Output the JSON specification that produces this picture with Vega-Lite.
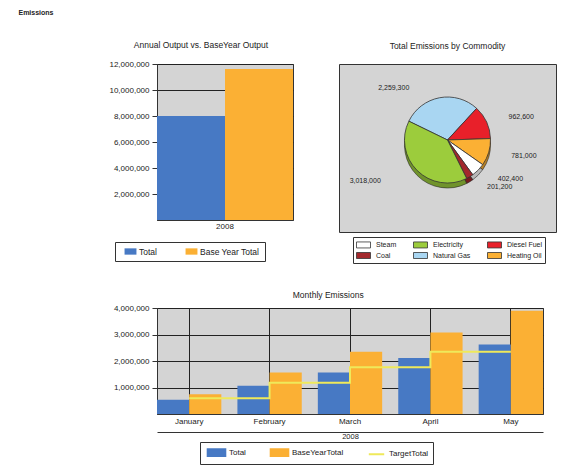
{
  "$schema": "https://vega.github.io/schema/vega-lite/v6.json",
  "padding": {"left": 18, "top": 9, "right": 8, "bottom": 0},
  "background": "white",
  "title": {"text": "Emissions", "anchor": "start", "frame": "bounds", "fontSize": 7, "fontWeight": "bold", "font": "Liberation Sans", "color": "#222", "dx": -90, "offset": 24},
  "config": {
    "font": "Liberation Sans",
    "view": {"fill": "#d4d4d4", "stroke": "#333", "strokeWidth": 1},
    "axis": {"labelFont": "Liberation Sans", "labelFontSize": 8, "labelColor": "#222", "domainColor": "#333", "tickColor": "#333", "gridColor": "#222", "gridWidth": 1, "gridOpacity": 1, "titleFontSize": 7.5, "titleFontWeight": "normal", "titleColor": "#222", "tickSize": 5, "labelPadding": 3},
    "title": {"fontSize": 8.5, "fontWeight": "normal", "color": "#222", "font": "Liberation Sans"},
    "legend": {"labelFontSize": 8, "labelColor": "#222", "strokeColor": "#333", "padding": 4, "fillColor": "white", "titleFontSize": 7.5}
  },
  "resolve": {"scale": {"color": "independent", "x": "independent", "y": "independent", "xOffset": "independent", "theta": "independent"}, "legend": {"color": "independent"}},
  "spacing": 26,
  "vconcat": [
    {
      "spacing": 44,
      "resolve": {"scale": {"color": "independent", "x": "independent", "y": "independent", "xOffset": "independent", "theta": "independent"}, "legend": {"color": "independent"}},
      "hconcat": [
        {
          "width": 136,
          "height": 156,
          "title": {"text": "Annual Output vs. BaseYear Output", "frame": "bounds", "offset": 11},
          "data": {"values": [
            {"Year": "2008", "Series": "Total", "Value": 8000000},
            {"Year": "2008", "Series": "Base Year Total", "Value": 11620000}
          ]},
          "mark": {"type": "bar"},
          "encoding": {
            "x": {"field": "Year", "type": "nominal", "scale": {"paddingInner": 0, "paddingOuter": 0}, "axis": {"title": null, "labelAngle": 0, "ticks": false, "grid": false, "labelPadding": 2}},
            "xOffset": {"field": "Series", "type": "nominal", "sort": ["Total", "Base Year Total"], "scale": {"paddingInner": 0, "paddingOuter": 0}},
            "y": {"field": "Value", "type": "quantitative", "scale": {"domain": [0, 12000000], "nice": false}, "axis": {"title": null, "values": [2000000, 4000000, 6000000, 8000000, 10000000, 12000000], "format": ",.0f", "grid": true}},
            "color": {"field": "Series", "type": "nominal", "scale": {"domain": ["Total", "Base Year Total"], "range": ["#4779c4", "#fbb034"]},
              "legend": {"title": null, "orient": "none", "legendX": -42, "legendY": 178, "direction": "horizontal", "symbolType": "M-1.7,-0.9H1.7V0.9H-1.7Z", "symbolSize": 49, "symbolOffset": 6, "labelOffset": 4, "columnPadding": 24, "labelFontSize": 8.5, "padding": 5}}
          }
        },
        {
          "width": 217,
          "height": 168,
          "view": {"fill": "#d4d4d4", "stroke": "#333", "strokeWidth": 1},
          "title": {"text": "Total Emissions by Commodity", "offset": 14},
          "data": {"values": [
            {"Commodity": "Natural Gas", "Emissions": 2259300, "Seq": 1},
            {"Commodity": "Diesel Fuel", "Emissions": 962600, "Seq": 2},
            {"Commodity": "Heating Oil", "Emissions": 781000, "Seq": 3},
            {"Commodity": "Steam", "Emissions": 402400, "Seq": 4},
            {"Commodity": "Coal", "Emissions": 201200, "Seq": 5},
            {"Commodity": "Electricity", "Emissions": 3018000, "Seq": 6}
          ]},
          "encoding": {
            "theta": {"field": "Emissions", "type": "quantitative", "stack": true, "scale": {"range": [5.166, 11.449]}},
            "order": {"field": "Seq", "type": "quantitative"}
          },
          "layer": [
            {
              "mark": {"type": "arc", "outerRadius": 43, "yOffset": -3, "stroke": "#333", "strokeWidth": 0.6},
              "encoding": {
                "color": {"field": "Commodity", "type": "nominal",
                  "scale": {"domain": ["Steam", "Electricity", "Diesel Fuel", "Coal", "Natural Gas", "Heating Oil"], "range": ["#ffffff", "#9ccc3c", "#e8202a", "#a3282c", "#a9d6f2", "#fbb034"]},
                  "legend": {"title": null, "orient": "none", "legendX": 14, "legendY": 173, "columns": 3, "direction": "horizontal", "symbolType": "M-1.4,-0.6H1.4V0.6H-1.4Z", "symbolSize": 100, "symbolOffset": 3, "labelOffset": 7, "symbolStrokeColor": "#333", "symbolStrokeWidth": 0.8, "columnPadding": 14, "rowPadding": 0, "labelFontSize": 7, "labelLimit": 60, "padding": 2}}
              }
            },
            {
              "mark": {"type": "arc", "outerRadius": 43, "yOffset": -3, "fill": "#000", "fillOpacity": 0.28}
            },
            {
              "mark": {"type": "arc", "outerRadius": 43, "yOffset": -8, "stroke": "#333", "strokeWidth": 0.8},
              "encoding": {
                "color": {"field": "Commodity", "type": "nominal"}
              }
            },
            {
              "mark": {"type": "text", "radius": 55, "yOffset": -8, "dx": 11, "align": "left", "fontSize": 7, "color": "#222"},
              "encoding": {
                "text": {"field": "Emissions", "type": "quantitative", "format": ","},
                "opacity": {"condition": {"test": "datum.Seq == 1 || datum.Seq == 6", "value": 0}, "value": 1}
              }
            },
            {
              "mark": {"type": "text", "radius": 55, "yOffset": -6, "dx": -28, "align": "right", "fontSize": 7, "color": "#222"},
              "encoding": {
                "text": {"field": "Emissions", "type": "quantitative", "format": ","},
                "opacity": {"condition": {"test": "datum.Seq == 1 || datum.Seq == 6", "value": 1}, "value": 0}
              }
            }
          ]
        }
      ]
    },
    {
      "width": 386,
      "height": 106,
      "title": {"text": "Monthly Emissions", "frame": "bounds", "offset": 5},
      "resolve": {"axis": {"x": "independent"}},
      "layer": [
        {
          "data": {"values": [
            {"Month": "January", "Series": "Total", "Value": 540000},
            {"Month": "January", "Series": "BaseYearTotal", "Value": 750000},
            {"Month": "February", "Series": "Total", "Value": 1070000},
            {"Month": "February", "Series": "BaseYearTotal", "Value": 1570000},
            {"Month": "March", "Series": "Total", "Value": 1570000},
            {"Month": "March", "Series": "BaseYearTotal", "Value": 2350000},
            {"Month": "April", "Series": "Total", "Value": 2110000},
            {"Month": "April", "Series": "BaseYearTotal", "Value": 3080000},
            {"Month": "May", "Series": "Total", "Value": 2620000},
            {"Month": "May", "Series": "BaseYearTotal", "Value": 3900000}
          ]},
          "mark": {"type": "bar"},
          "encoding": {
            "x": {"field": "Month", "type": "nominal", "sort": ["January", "February", "March", "April", "May"], "scale": {"paddingInner": 0.2, "paddingOuter": 0}, "axis": {"title": null, "labelAngle": 0, "grid": true, "bandPosition": 0.5, "ticks": false}},
            "xOffset": {"field": "Series", "type": "nominal", "sort": ["Total", "BaseYearTotal"], "scale": {"paddingInner": 0, "paddingOuter": 0}},
            "y": {"field": "Value", "type": "quantitative", "scale": {"domain": [0, 4000000], "nice": false}, "axis": {"title": null, "values": [1000000, 2000000, 3000000, 4000000], "format": ",.0f", "grid": true}},
            "color": {"field": "Series", "type": "nominal", "scale": {"domain": ["Total", "BaseYearTotal", "TargetTotal"], "range": ["#4779c4", "#fbb034", "#efe95a"]},
              "legend": {"title": null, "orient": "none", "legendX": 43, "legendY": 134, "direction": "horizontal", "symbolType": "M-1.6,-0.6H1.6V0.6H-1.6Z", "symbolSize": 121, "symbolOffset": 6, "labelOffset": 6, "columnPadding": 20, "padding": 4,
                "encode": {"symbols": {"update": {
                  "shape": {"signal": "datum.value === 'TargetTotal' ? 'M-1.4,0H1.4' : 'M-1.6,-0.6H1.6V0.6H-1.6Z'"},
                  "fill": {"signal": "datum.value === 'TargetTotal' ? 'transparent' : (datum.value === 'Total' ? '#4779c4' : '#fbb034')"},
                  "stroke": {"signal": "datum.value === 'TargetTotal' ? '#efe95a' : 'transparent'"},
                  "strokeWidth": {"value": 2}
                }}}}}
          }
        },
        {
          "data": {"values": [
            {"Month": "January", "Target": 590000},
            {"Month": "February", "Target": 1180000},
            {"Month": "March", "Target": 1760000},
            {"Month": "April", "Target": 2350000},
            {"Month": "May", "Target": 2350000}
          ]},
          "mark": {"type": "line", "interpolate": "step-after", "strokeWidth": 2},
          "encoding": {
            "x": {"field": "Month", "type": "nominal", "sort": ["January", "February", "March", "April", "May"], "axis": {"orient": "bottom", "offset": 18, "labels": false, "ticks": false, "grid": false, "domain": true, "title": "2008", "titlePadding": 0}},
            "y": {"field": "Target", "type": "quantitative", "axis": {"title": null, "values": [1000000, 2000000, 3000000, 4000000], "format": ",.0f", "grid": true}},
            "color": {"datum": "TargetTotal"}
          }
        }
      ]
    }
  ]
}
